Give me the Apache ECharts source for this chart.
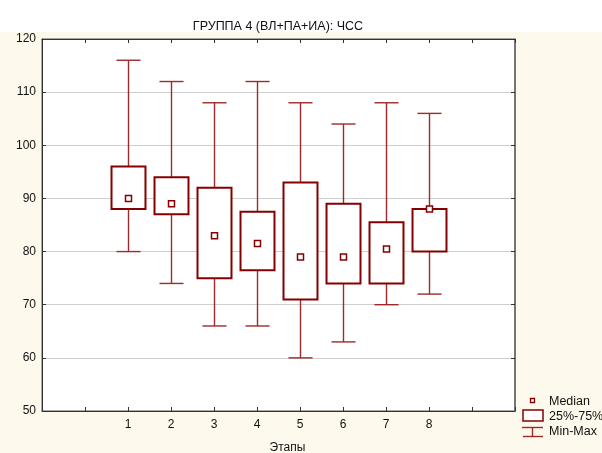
<!DOCTYPE html>
<html>
<head>
<meta charset="utf-8">
<script src="https://cdn.jsdelivr.net/npm/echarts@6/dist/echarts.min.js"></script>
<style>
html,body{margin:0;padding:0;background:#fdf9ec;}
#c{width:602px;height:453px;}
</style>
</head>
<body>
<div id="c"></div>
<script>
var stages = [1, 2, 3, 4, 5, 6, 7, 8];
var minVals = [80, 74, 66, 66, 60, 63, 70, 72];
var q1Vals = [88, 87, 75, 76.5, 71, 74, 74, 80];
var medianVals = [90, 89, 83, 81.5, 79, 79, 80.5, 88];
var q3Vals = [96, 94, 92, 87.5, 93, 89, 85.5, 88];
var maxVals = [116, 112, 108, 112, 108, 104, 108, 106];
var yTicks = [50, 60, 70, 80, 90, 100, 110, 120];

var data = stages.map(function (s, i) {
  return [s, minVals[i], q1Vals[i], medianVals[i], q3Vals[i], maxVals[i]];
});

var RED = '#850000';
var WRED = '#9e2a2a';
var FONT = 'Liberation Sans, Arial, sans-serif';

function renderItem(params, api) {
  var x = api.value(0);
  var pMin = api.coord([x, api.value(1)]);
  var pQ1 = api.coord([x, api.value(2)]);
  var pMed = api.coord([x, api.value(3)]);
  var pQ3 = api.coord([x, api.value(4)]);
  var pMax = api.coord([x, api.value(5)]);
  var boxW = api.size([0.79, 0])[0];
  var capW = api.size([0.56, 0])[0];
  var cx = Math.round(pMed[0]) + 0.5;
  var ws = { stroke: WRED, lineWidth: 1.4 };
  return {
    type: 'group',
    children: [
      { type: 'line', shape: { x1: cx, y1: pMax[1], x2: cx, y2: pQ3[1] }, style: ws },
      { type: 'line', shape: { x1: cx, y1: pQ1[1], x2: cx, y2: pMin[1] }, style: ws },
      { type: 'line', shape: { x1: cx - capW / 2, y1: pMax[1], x2: cx + capW / 2, y2: pMax[1] }, style: ws },
      { type: 'line', shape: { x1: cx - capW / 2, y1: pMin[1], x2: cx + capW / 2, y2: pMin[1] }, style: ws },
      { type: 'rect', shape: { x: cx - boxW / 2, y: pQ3[1], width: boxW, height: pQ1[1] - pQ3[1] },
        style: { fill: '#ffffff', stroke: RED, lineWidth: 2 } },
      { type: 'rect', shape: { x: cx - 3, y: pMed[1] - 3, width: 6, height: 6 },
        style: { fill: '#ffffff', stroke: RED, lineWidth: 1.5 } }
    ]
  };
}

var chart = echarts.init(document.getElementById('c'), null, { renderer: 'canvas' });
var xCommon = {
  type: 'value', min: -1, max: 10, interval: 1,
  axisLine: { show: true, onZero: false, lineStyle: { color: '#333', width: 1 } },
  axisTick: { show: true, inside: true, length: 4, lineStyle: { color: '#333' } },
  splitLine: { show: false }
};
chart.setOption({
  backgroundColor: '#fdf9ec',
  animation: false,
  textStyle: { fontFamily: FONT },
  graphic: [
    { type: 'rect', z: -10, shape: { x: 0, y: 0, width: 602, height: 32 }, style: { fill: '#ffffff' } },
    { type: 'rect', shape: { x: 530.5, y: 398.5, width: 4, height: 4 }, style: { fill: '#fff', stroke: RED, lineWidth: 1.3 } },
    { type: 'rect', shape: { x: 523, y: 410, width: 20, height: 11 }, style: { fill: '#fff', stroke: RED, lineWidth: 1.5 } },
    { type: 'line', shape: { x1: 522, y1: 427.5, x2: 543, y2: 427.5 }, style: { stroke: WRED, lineWidth: 1.4 } },
    { type: 'line', shape: { x1: 532.5, y1: 427.5, x2: 532.5, y2: 436.5 }, style: { stroke: WRED, lineWidth: 1.4 } },
    { type: 'line', shape: { x1: 523, y1: 436.5, x2: 543, y2: 436.5 }, style: { stroke: WRED, lineWidth: 1.4 } },
    { type: 'text', style: { x: 549, y: 401.5, text: 'Median', font: '12.5px ' + FONT, fill: '#111', verticalAlign: 'middle' } },
    { type: 'text', style: { x: 549, y: 416.5, text: '25%-75%', font: '12.5px ' + FONT, fill: '#111', verticalAlign: 'middle' } },
    { type: 'text', style: { x: 549, y: 431.5, text: 'Min-Max', font: '12.5px ' + FONT, fill: '#111', verticalAlign: 'middle' } }
  ],
  title: {
    text: 'ГРУППА 4 (ВЛ+ПА+ИА): ЧСС',
    left: 273, top: 15, textAlign: 'center',
    textStyle: { fontSize: 12.5, fontWeight: 'normal', color: '#111', fontFamily: FONT }
  },
  grid: {
    left: 42, top: 39, right: 87, bottom: 42,
    outerBoundsMode: 'none', containLabel: false,
    show: true, backgroundColor: '#ffffff', borderColor: '#555', borderWidth: 1
  },
  xAxis: [
    Object.assign({}, xCommon, {
      position: 'bottom',
      name: 'Этапы', nameLocation: 'middle', nameGap: 31,
      nameTextStyle: { fontSize: 12, color: '#111', fontFamily: FONT, padding: [0, 0, 0, 18] },
      axisLabel: {
        show: true, margin: 8, fontSize: 12, color: '#111', fontFamily: FONT,
        formatter: function (v) { return stages.indexOf(v) >= 0 ? String(v) : ''; }
      }
    }),
    Object.assign({}, xCommon, { position: 'top', axisLabel: { show: false } })
  ],
  yAxis: [
    {
      type: 'value', min: yTicks[0], max: yTicks[yTicks.length - 1], interval: 10,
      position: 'left',
      axisLine: { show: true, onZero: false, lineStyle: { color: '#333' } },
      axisTick: { show: true, inside: true, length: 4, lineStyle: { color: '#333' } },
      axisLabel: { margin: 6, fontSize: 12, color: '#111', fontFamily: FONT },
      splitLine: { show: true, lineStyle: { color: '#cfcfcf', width: 1 } }
    },
    {
      type: 'value', min: yTicks[0], max: yTicks[yTicks.length - 1], interval: 10, position: 'right',
      axisLine: { show: true, onZero: false, lineStyle: { color: '#666', width: 1.5 } },
      axisTick: { show: true, inside: true, length: 4, lineStyle: { color: '#333' } },
      axisLabel: { show: false },
      splitLine: { show: false }
    }
  ],
  series: [{
    type: 'custom',
    renderItem: renderItem,
    encode: { x: 0, y: [1, 2, 3, 4, 5] },
    data: data,
    clip: false
  }]
});
</script>
</body>
</html>
